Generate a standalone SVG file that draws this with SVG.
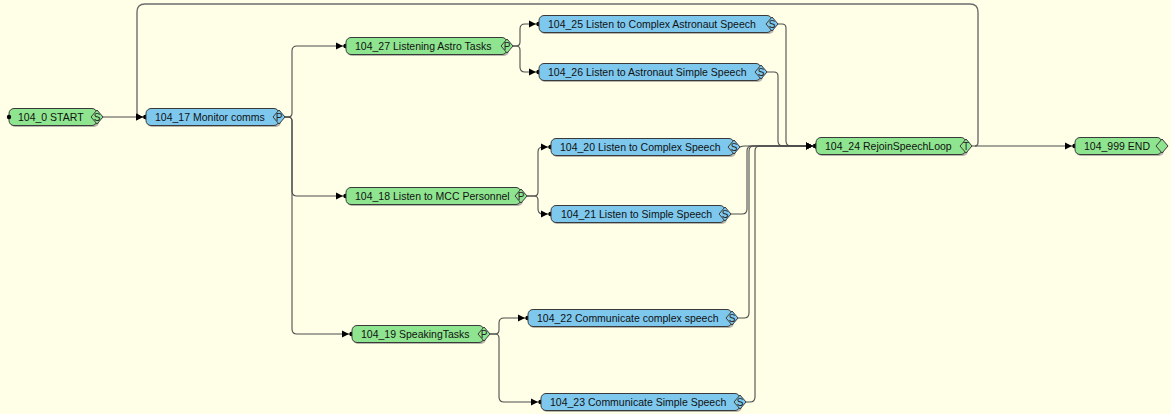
<svg xmlns="http://www.w3.org/2000/svg" width="1171" height="414" viewBox="0 0 1171 414">
<style>
.bg{fill:#FFFEE6}
.g{fill:#8FE58F;stroke:#3a3a3a;stroke-width:1}
.b{fill:#7EC8EE;stroke:#3a3a3a;stroke-width:1}
.sh{fill:#7a7a7a;opacity:.55}
.t{font-family:"Liberation Sans",Arial,sans-serif;font-size:10.5px;fill:#111}
.d{font-family:"Liberation Sans",Arial,sans-serif;font-size:10px;fill:#222;text-anchor:middle}
.c{fill:none;stroke:#4d4d4d;stroke-width:1.1}
.lp{fill:none;stroke:#6e6e6e;stroke-width:1.4}
</style>
<defs>
<marker id="a" viewBox="0 0 14 8" refX="11" refY="4" markerWidth="14" markerHeight="8" markerUnits="userSpaceOnUse" orient="auto">
<path d="M1,0.5 L8,4 L1,7.5 Z" fill="#000"/>
<circle cx="10.5" cy="4" r="2.2" fill="#000"/>
</marker>
</defs>
<rect class="bg" x="0" y="0" width="1171" height="414"/>
<g id="connectors">
<path class="lp" d="M975,146 Q978,146 978,142 V12 Q978,4 970,4 H145 Q137,4 137,12 V112 Q137,117 142,117 H146" marker-end="url(#a)"/>
<path class="c" d="M103,117 H146" marker-end="url(#a)"/>
<path class="c" d="M285,117 H288 Q292,117 292,113 V51 Q292,46 297,46 H346" marker-end="url(#a)"/>
<path class="c" d="M285,117 H288 Q292,117 292,121 V191 Q292,196 297,196 H346" marker-end="url(#a)"/>
<path class="c" d="M285,117 H288 Q292,117 292,121 V329 Q292,334 297,334 H352" marker-end="url(#a)"/>
<path class="c" d="M513,46 H516 Q520,46 520,42 V29 Q520,24 525,24 H539" marker-end="url(#a)"/>
<path class="c" d="M513,46 H516 Q520,46 520,50 V67 Q520,72 525,72 H539" marker-end="url(#a)"/>
<path class="c" d="M527,196 H534 Q538,196 538,192 V152 Q538,147 543,147 H551" marker-end="url(#a)"/>
<path class="c" d="M527,196 H534 Q538,196 538,200 V209 Q538,214 543,214 H551" marker-end="url(#a)"/>
<path class="c" d="M490,334 H495 Q499,334 499,330 V323 Q499,318 504,318 H528" marker-end="url(#a)"/>
<path class="c" d="M490,334 H495 Q499,334 499,338 V397 Q499,402 504,402 H541" marker-end="url(#a)"/>
<path class="c" d="M778,24 H782 Q786,24 786,28 V141 Q786,146 791,146 H816" marker-end="url(#a)"/>
<path class="c" d="M767,72 H774 Q778,72 778,76 V141 Q778,146 783,146 H816" marker-end="url(#a)"/>
<path class="c" d="M740,147 Q742,146 745,146 H816" marker-end="url(#a)"/>
<path class="c" d="M731,214 H742 Q747,214 747,209 V151 Q747,146 752,146 H816" marker-end="url(#a)"/>
<path class="c" d="M738,318 H744 Q749,318 749,313 V151 Q749,146 754,146 H816" marker-end="url(#a)"/>
<path class="c" d="M746,402 H750 Q755,402 755,397 V151 Q755,146 760,146 H816" marker-end="url(#a)"/>
<path class="c" d="M972,146 H1075" marker-end="url(#a)"/>
</g>
<g id="n104_0">
<rect class="sh" x="10" y="110" width="89" height="17" rx="5"/>
<rect class="g" x="9" y="108.5" width="88" height="17" rx="5"/>
<polygon class="g" points="91,117 97,110 103,117 97,124"/>
<text class="d" x="97" y="120.5">S</text>
<circle cx="9" cy="117" r="2.2" fill="#000"/>
<text class="t" x="18" y="121">104_0 START</text>
</g>
<g id="n104_17">
<rect class="sh" x="147" y="110" width="134" height="17" rx="5"/>
<rect class="b" x="146" y="108.5" width="133" height="17" rx="5"/>
<polygon class="b" points="273,117 279,110 285,117 279,124"/>
<text class="d" x="279" y="120.5">P</text>
<text class="t" x="155" y="121">104_17 Monitor comms</text>
</g>
<g id="n104_27">
<rect class="sh" x="347" y="39" width="162" height="17" rx="5"/>
<rect class="g" x="346" y="37.5" width="161" height="17" rx="5"/>
<polygon class="g" points="501,46 507,39 513,46 507,53"/>
<text class="d" x="507" y="49.5">P</text>
<text class="t" x="355" y="50">104_27 Listening Astro Tasks</text>
</g>
<g id="n104_25">
<rect class="sh" x="540" y="17" width="234" height="17" rx="5"/>
<rect class="b" x="539" y="15.5" width="233" height="17" rx="5"/>
<polygon class="b" points="766,24 772,17 778,24 772,31"/>
<text class="d" x="772" y="27.5">S</text>
<text class="t" x="548" y="28">104_25 Listen to Complex Astronaut Speech</text>
</g>
<g id="n104_26">
<rect class="sh" x="540" y="65" width="223" height="17" rx="5"/>
<rect class="b" x="539" y="63.5" width="222" height="17" rx="5"/>
<polygon class="b" points="755,72 761,65 767,72 761,79"/>
<text class="d" x="761" y="75.5">S</text>
<text class="t" x="548" y="76">104_26 Listen to Astronaut Simple Speech</text>
</g>
<g id="n104_18">
<rect class="sh" x="347" y="189" width="176" height="17" rx="5"/>
<rect class="g" x="346" y="187.5" width="175" height="17" rx="5"/>
<polygon class="g" points="515,196 521,189 527,196 521,203"/>
<text class="d" x="521" y="199.5">P</text>
<text class="t" x="355" y="200">104_18 Listen to MCC Personnel</text>
</g>
<g id="n104_20">
<rect class="sh" x="552" y="140" width="184" height="17" rx="5"/>
<rect class="b" x="551" y="138.5" width="183" height="17" rx="5"/>
<polygon class="b" points="728,147 734,140 740,147 734,154"/>
<text class="d" x="734" y="150.5">S</text>
<text class="t" x="560" y="151">104_20 Listen to Complex Speech</text>
</g>
<g id="n104_21">
<rect class="sh" x="552" y="207" width="175" height="17" rx="5"/>
<rect class="b" x="551" y="205.5" width="174" height="17" rx="5"/>
<polygon class="b" points="719,214 725,207 731,214 725,221"/>
<text class="d" x="725" y="217.5">S</text>
<text class="t" x="561" y="218">104_21 Listen to Simple Speech</text>
</g>
<g id="n104_19">
<rect class="sh" x="353" y="327" width="133" height="17" rx="5"/>
<rect class="g" x="352" y="325.5" width="132" height="17" rx="5"/>
<polygon class="g" points="478,334 484,327 490,334 484,341"/>
<text class="d" x="484" y="337.5">P</text>
<text class="t" x="361" y="338">104_19 SpeakingTasks</text>
</g>
<g id="n104_22">
<rect class="sh" x="529" y="311" width="205" height="17" rx="5"/>
<rect class="b" x="528" y="309.5" width="204" height="17" rx="5"/>
<polygon class="b" points="726,318 732,311 738,318 732,325"/>
<text class="d" x="732" y="321.5">S</text>
<text class="t" x="537" y="322">104_22 Communicate complex speech</text>
</g>
<g id="n104_23">
<rect class="sh" x="542" y="395" width="200" height="17" rx="5"/>
<rect class="b" x="541" y="393.5" width="199" height="17" rx="5"/>
<polygon class="b" points="734,402 740,395 746,402 740,409"/>
<text class="d" x="740" y="405.5">S</text>
<text class="t" x="550" y="406">104_23 Communicate Simple Speech</text>
</g>
<g id="n104_24">
<rect class="sh" x="817" y="139" width="151" height="17" rx="5"/>
<rect class="g" x="816" y="137.5" width="150" height="17" rx="5"/>
<polygon class="g" points="960,146 966,139 972,146 966,153"/>
<text class="d" x="966" y="149.5">T</text>
<text class="t" x="825" y="150">104_24 RejoinSpeechLoop</text>
</g>
<g id="n104_999">
<rect class="sh" x="1076" y="139" width="88" height="17" rx="5"/>
<rect class="g" x="1075" y="137.5" width="87" height="17" rx="5"/>
<polygon class="g" points="1156,146 1162,139 1168,146 1162,153"/>
<text class="t" x="1084" y="150">104_999 END</text>
</g>
</svg>
